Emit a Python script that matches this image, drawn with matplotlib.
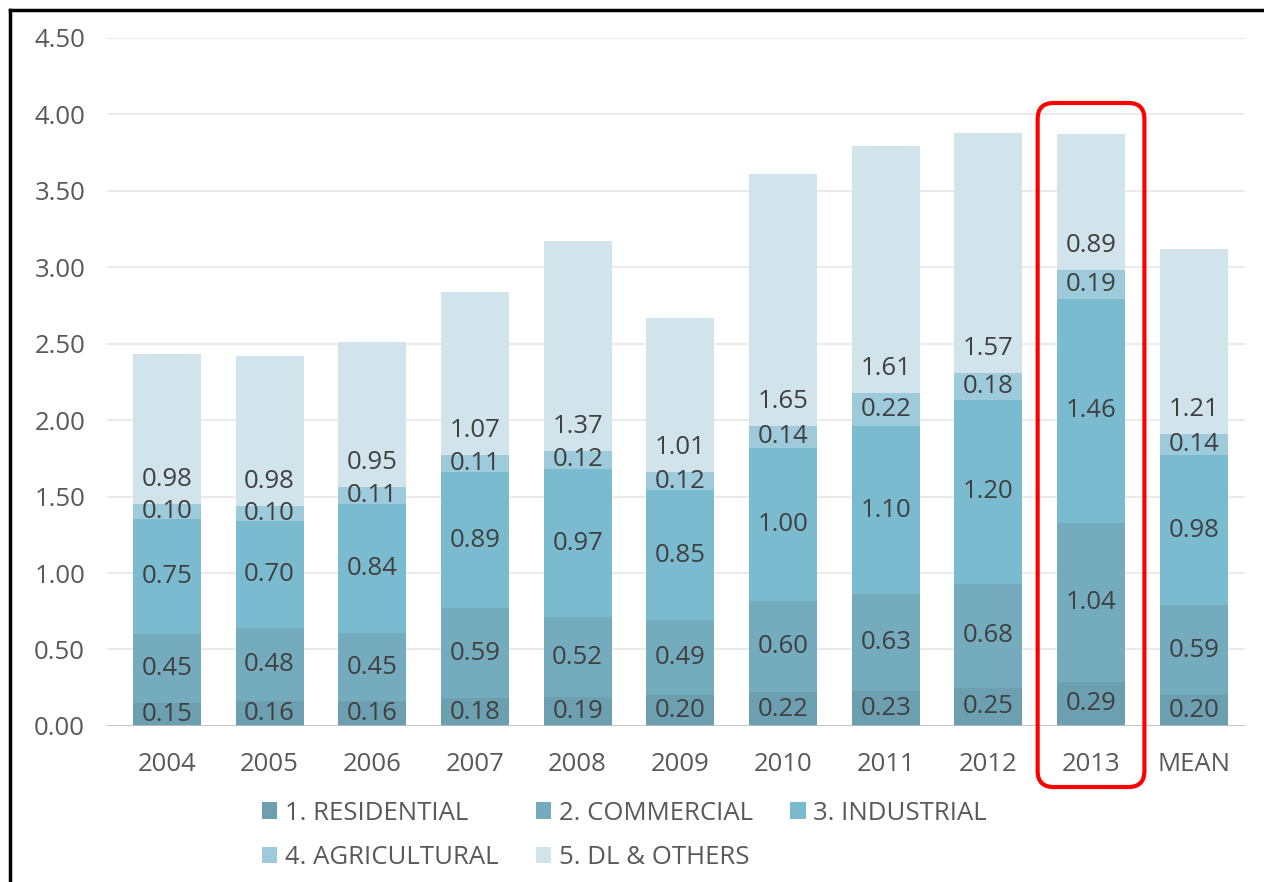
import matplotlib
matplotlib.use("Agg")
from matplotlib import pyplot as plt
from matplotlib.patches import FancyBboxPatch
from matplotlib.lines import Line2D
import numpy as np

years = ['2004', '2005', '2006', '2007', '2008', '2009', '2010', '2011', '2012', '2013', 'MEAN']
residential = [0.15, 0.16, 0.16, 0.18, 0.19, 0.20, 0.22, 0.23, 0.25, 0.29, 0.20]
commercial = [0.45, 0.48, 0.45, 0.59, 0.52, 0.49, 0.60, 0.63, 0.68, 1.04, 0.59]
industrial = [0.75, 0.70, 0.84, 0.89, 0.97, 0.85, 1.00, 1.10, 1.20, 1.46, 0.98]
agricultural = [0.10, 0.10, 0.11, 0.11, 0.12, 0.12, 0.14, 0.22, 0.18, 0.19, 0.14]
dl_others = [0.98, 0.98, 0.95, 1.07, 1.37, 1.01, 1.65, 1.61, 1.57, 0.89, 1.21]

series_names = ['1. RESIDENTIAL', '2. COMMERCIAL', '3. INDUSTRIAL', '4. AGRICULTURAL', '5. DL & OTHERS']
colors = ['#6CA0B0', '#74ACBE', '#7BBBCF', '#9DCBDB', '#D1E4EB']

plt.rcParams['font.family'] = ['Open Sans', 'DejaVu Sans']
FS = 18.5

fig = plt.figure(figsize=(12.64, 8.82), dpi=100)
ax = fig.add_axes([0.085, 0.177, 0.9, 0.78])

x = np.arange(len(years))
bottom = np.zeros(len(years))
bars = []
all_series = [residential, commercial, industrial, agricultural, dl_others]
for i, vals in enumerate(all_series):
    vals = np.array(vals)
    b = ax.bar(x, vals, 0.66, bottom=bottom, color=colors[i], label=series_names[i], zorder=2)
    bars.append(b)
    for xi, v, bt in zip(x, vals, bottom):
        if i == 4:
            # top segment label sits near the base of the segment
            ypos = bt + 0.16
        else:
            ypos = bt + v / 2
        ax.text(xi, ypos, '%.2f' % v, ha='center', va='center', fontsize=FS,
                color='#404040', zorder=4)
    bottom = bottom + vals

ax.set_ylim(0, 4.5)
ax.set_xlim(-0.58, 10.5)
ax.set_yticks(np.arange(0, 4.51, 0.5))
ax.set_yticklabels(['%.2f' % t for t in np.arange(0, 4.51, 0.5)])
ax.set_xticks(x)
ax.set_xticklabels(years)
ax.tick_params(axis='both', length=0, labelsize=FS, labelcolor='#595959')
ax.tick_params(axis='y', pad=16)
ax.tick_params(axis='x', pad=19)
for s in ax.spines.values():
    s.set_visible(False)
ax.grid(axis='y', color='black', alpha=0.08, linewidth=1.5, zorder=3)
ax.axhline(0, color='#BFBFBF', linewidth=1.2, zorder=3)

order = [0, 3, 1, 4, 2]
leg = fig.legend([bars[k] for k in order], [series_names[k] for k in order],
                 ncol=3, loc='center', bbox_to_anchor=(0.494, 0.053), frameon=False,
                 fontsize=FS, handlelength=0.6, handleheight=0.6, handletextpad=0.3,
                 columnspacing=1.45, labelspacing=0.75)
for t in leg.get_texts():
    t.set_color('#595959')

# red highlight around 2013
fig.canvas.draw()
px_left = ax.transData.transform((9 - 0.52, 0))[0]
px_right = ax.transData.transform((9 + 0.52, 0))[0]
top_px = 882 - 103
bot_px = 882 - 787
box = FancyBboxPatch((px_left, bot_px), px_right - px_left, top_px - bot_px,
                     boxstyle='round,pad=0,rounding_size=16', transform=None,
                     fill=False, edgecolor='#FF0000', linewidth=3)
fig.add_artist(box)

# frame lines from the screenshot
fig.add_artist(Line2D([10 / 1264, 10 / 1264], [0, 1 - 10 / 882], color='black', linewidth=2.5))
fig.add_artist(Line2D([10 / 1264, 1], [1 - 10 / 882, 1 - 10 / 882], color='black', linewidth=2.5))

fig.savefig('out.png', dpi=100)
